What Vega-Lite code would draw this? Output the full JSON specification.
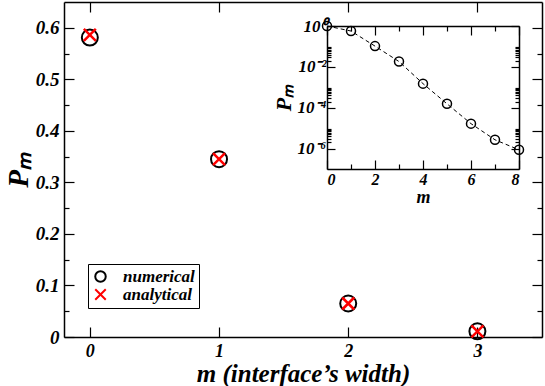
{
  "$schema": "https://vega.github.io/schema/vega-lite/v6.json",
  "width": 478,
  "height": 335,
  "autosize": "none",
  "padding": {"left": 64, "top": 2, "right": 3, "bottom": 49},
  "config": {
    "view": {"stroke": null},
    "axis": {
      "domainColor": "black",
      "domainWidth": 1.5,
      "tickColor": "black",
      "tickWidth": 1.2,
      "grid": false,
      "labelColor": "black",
      "titleColor": "black"
    }
  },
  "datasets": {
    "main": [
      {"m": 0, "numerical": 0.581, "analytical": 0.586},
      {"m": 1, "numerical": 0.345, "analytical": 0.345},
      {"m": 2, "numerical": 0.065, "analytical": 0.065},
      {"m": 3, "numerical": 0.011, "analytical": 0.011}
    ],
    "inset": [
      {"m": 0, "P": 1},
      {"m": 1, "P": 0.567},
      {"m": 2, "P": 0.1035},
      {"m": 3, "P": 0.0182},
      {"m": 4, "P": 0.00151},
      {"m": 5, "P": 0.000155},
      {"m": 6, "P": 0.0000166},
      {"m": 7, "P": 0.00000269},
      {"m": 8, "P": 0.00000087}
    ]
  },
  "resolve": {
    "scale": {"x": "independent", "y": "independent"},
    "axis": {"x": "independent", "y": "independent"}
  },
  "layer": [
    {
      "data": {"name": "main"},
      "mark": {"type": "point", "filled": false, "size": 256, "strokeWidth": 2, "opacity": 1},
      "encoding": {
        "x": {
          "field": "m", "type": "quantitative",
          "scale": {"domain": [-0.2, 3.5], "nice": false, "zero": false},
          "axis": {
            "orient": "bottom", "values": [0, 1, 2, 3], "tickSize": -10,
            "labelPadding": 15, "labelFontSize": 18, "format": "d",
            "labelFont": "Liberation Serif", "labelFontWeight": "bold", "labelFontStyle": "italic",
            "title": "m (interface’s width)", "titleFont": "Liberation Serif", "titleFontWeight": "bold", "titleFontStyle": "italic",
            "titleFontSize": 25, "titlePadding": 1
          }
        },
        "y": {
          "field": "numerical", "type": "quantitative",
          "scale": {"domain": [0, 0.65], "nice": false},
          "axis": {
            "orient": "left",
            "values": [0, 0.05, 0.1, 0.15, 0.2, 0.25, 0.3, 0.35, 0.4, 0.45, 0.5, 0.55, 0.6],
            "tickSize": {"condition": {"test": "round(datum.value*100) % 10 !== 0", "value": -5}, "value": -10},
            "labelExpr": "round(datum.value*100) % 10 !== 0 ? '' : format(datum.value, '.1~f')",
            "labelFont": "Liberation Serif", "labelFontWeight": "bold", "labelFontStyle": "italic",
            "labelPadding": 15, "labelFontSize": 19,
            "title": "Pₘ", "titleFont": "Liberation Serif", "titleFontWeight": "bold", "titleFontStyle": "italic",
            "titleFontSize": 29, "titlePadding": 2
          }
        },
        "color": {
          "datum": "numerical", "type": "nominal",
          "scale": {"domain": ["numerical", "analytical"], "range": ["black", "red"]},
          "legend": {
            "orient": "none", "legendX": 24, "legendY": 262, "title": null,
            "labelFont": "Liberation Serif", "labelFontWeight": "bold", "labelFontStyle": "italic",
            "labelFontSize": 17, "labelColor": "black",
            "strokeColor": "black", "fillColor": "white", "padding": 4,
            "symbolSize": 110, "symbolStrokeWidth": 2, "labelOffset": 14, "rowPadding": -3,
            "symbolFillColor": "transparent"
          }
        },
        "shape": {
          "datum": "numerical", "type": "nominal",
          "scale": {"domain": ["numerical", "analytical"], "range": ["circle", "M-1,-1L1,1M-1,1L1,-1"]}
        }
      }
    },
    {
      "data": {"name": "main"},
      "mark": {"type": "point", "filled": false, "size": 144, "strokeWidth": 2.5, "opacity": 1},
      "encoding": {
        "x": {
          "field": "m", "type": "quantitative",
          "scale": {"domain": [-0.2, 3.5], "nice": false, "zero": false},
          "axis": {"orient": "top", "values": [0, 1, 2, 3], "tickSize": -10, "labels": false, "title": null}
        },
        "y": {
          "field": "analytical", "type": "quantitative",
          "scale": {"domain": [0, 0.65], "nice": false},
          "axis": {
            "orient": "right",
            "values": [0, 0.05, 0.1, 0.15, 0.2, 0.25, 0.3, 0.35, 0.4, 0.45, 0.5, 0.55, 0.6],
            "tickSize": {"condition": {"test": "round(datum.value*100) % 10 !== 0", "value": -5}, "value": -10},
            "labels": false, "title": null
          }
        },
        "color": {"datum": "analytical", "type": "nominal"},
        "shape": {"datum": "analytical", "type": "nominal"}
      }
    },
    {
      "data": {"name": "inset"},
      "mark": {"type": "line", "color": "black", "strokeWidth": 1, "strokeDash": [4, 3]},
      "encoding": {
        "x": {
          "field": "m", "type": "quantitative",
          "scale": {"domain": [0, 8], "range": [263, 455], "nice": false},
          "axis": {
            "orient": "bottom", "offset": -168, "values": [0, 1, 2, 3, 4, 5, 6, 7, 8],
            "tickSize": {"condition": {"test": "datum.value % 2 !== 0", "value": -5}, "value": -9},
            "labelExpr": "datum.value % 2 !== 0 ? '' : datum.label",
            "labelFont": "Liberation Serif", "labelFontWeight": "bold", "labelFontStyle": "italic",
            "labelPadding": 11, "labelFontSize": 16,
            "title": "m", "titleFont": "Liberation Serif", "titleFontWeight": "bold", "titleFontStyle": "italic",
            "titleFontSize": 18, "titlePadding": 1
          }
        },
        "y": {
          "field": "P", "type": "quantitative",
          "scale": {"type": "log", "domain": [0.0000001, 1], "range": [167, 24], "nice": false},
          "axis": {
            "orient": "left", "offset": -263,
            "values": [1, 0.09, 0.08, 0.07, 0.06, 0.05, 0.04, 0.03, 0.02, 0.01, 0.0009, 0.0008, 0.0007, 0.0006, 0.0005, 0.0004, 0.0003, 0.0002, 0.0001, 0.000009, 0.000008, 0.000007, 0.000006, 0.000005, 0.000004, 0.000003, 0.000002, 0.000001],
            "tickSize": {"condition": {"test": "datum.value === 1 || datum.value === 0.01 || datum.value === 0.0001 || datum.value === 0.000001", "value": -8}, "value": -4},
            "labelExpr": "datum.value === 1 ? '10⁰' : datum.value === 0.01 ? '10⁻²' : datum.value === 0.0001 ? '10⁻⁴' : datum.value === 0.000001 ? '10⁻⁶' : ''",
            "labelFont": "Liberation Serif", "labelFontWeight": "bold", "labelFontStyle": "italic",
            "labelPadding": 9, "labelFontSize": 17,
            "title": "Pₘ", "titleFont": "Liberation Serif", "titleFontWeight": "bold", "titleFontStyle": "italic",
            "titleFontSize": 22, "titlePadding": 2
          }
        }
      }
    },
    {
      "data": {"name": "inset"},
      "mark": {"type": "point", "filled": false, "size": 81, "strokeWidth": 1.5, "color": "black", "opacity": 1},
      "encoding": {
        "x": {
          "field": "m", "type": "quantitative",
          "scale": {"domain": [0, 8], "range": [263, 455], "nice": false},
          "axis": {
            "orient": "top", "offset": -24, "values": [0, 1, 2, 3, 4, 5, 6, 7, 8],
            "tickSize": {"condition": {"test": "datum.value % 2 !== 0", "value": -5}, "value": -9},
            "labels": false, "title": null
          }
        },
        "y": {
          "field": "P", "type": "quantitative",
          "scale": {"type": "log", "domain": [0.0000001, 1], "range": [167, 24], "nice": false},
          "axis": {
            "orient": "right", "offset": -23,
            "values": [1, 0.09, 0.08, 0.07, 0.06, 0.05, 0.04, 0.03, 0.02, 0.01, 0.0009, 0.0008, 0.0007, 0.0006, 0.0005, 0.0004, 0.0003, 0.0002, 0.0001, 0.000009, 0.000008, 0.000007, 0.000006, 0.000005, 0.000004, 0.000003, 0.000002, 0.000001],
            "tickSize": {"condition": {"test": "datum.value === 1 || datum.value === 0.01 || datum.value === 0.0001 || datum.value === 0.000001", "value": -8}, "value": -4},
            "labels": false, "title": null
          }
        }
      }
    }
  ]
}
